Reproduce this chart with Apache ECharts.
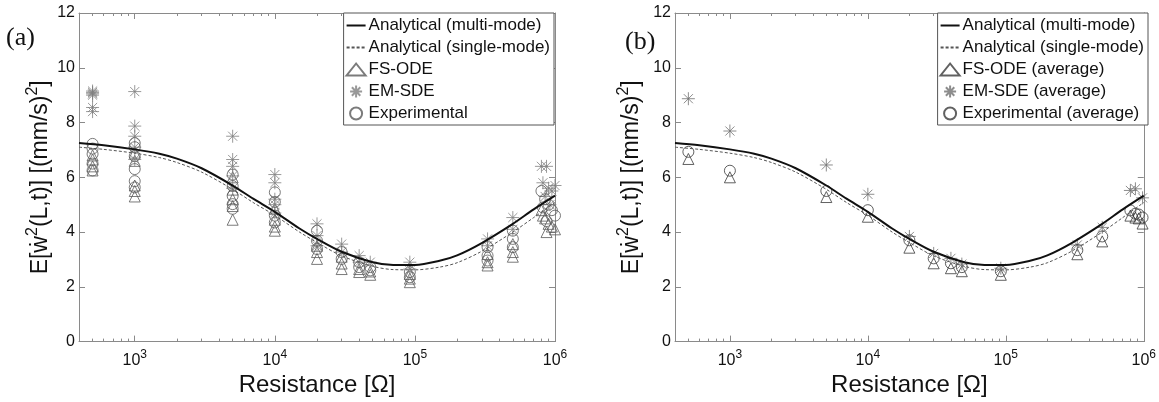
<!DOCTYPE html>
<html><head><meta charset="utf-8">
<script src="https://cdn.jsdelivr.net/npm/echarts@6/dist/echarts.min.js"></script>
<style>html,body{margin:0;padding:0;background:#fff}#c{width:1159px;height:402px}</style>
</head><body><div id="c"></div>
<script>
// ---------- data ----------
const curveR      = [400, 600, 1000, 1500, 2000, 3000, 5000, 7000, 10000, 15000, 20000, 30000, 50000, 70000, 100000, 150000, 200000, 300000, 500000, 700000, 1000000];
const multiMode   = [7.25, 7.17, 7.02, 6.86, 6.68, 6.33, 5.7, 5.22, 4.74, 4.13, 3.75, 3.28, 2.9, 2.8, 2.8, 2.95, 3.15, 3.6, 4.3, 4.82, 5.33];
const singleMode  = [7.1, 7.02, 6.88, 6.72, 6.54, 6.19, 5.56, 5.08, 4.61, 4.0, 3.62, 3.13, 2.75, 2.63, 2.62, 2.72, 2.88, 3.3, 4.0, 4.52, 5.08];

const xMajorTicks = [1e3, 1e4, 1e5, 1e6];
const xMinorTicks = [500, 600, 700, 800, 900, 2000, 3000, 4000, 5000, 6000, 7000, 8000, 9000,
  20000, 30000, 40000, 50000, 60000, 70000, 80000, 90000,
  200000, 300000, 400000, 500000, 600000, 700000, 800000, 900000];

// panel (a): all runs
const aFsOde = [[500,6.8],[500,6.65],[500,6.4],[500,6.25],
  [1000,6.9],[1000,6.6],[1000,5.7],[1000,5.5],[1000,5.3],
  [5000,6.0],[5000,5.55],[5000,5.2],[5000,4.95],[5000,4.45],
  [10000,4.85],[10000,4.45],[10000,4.2],[10000,4.05],
  [20000,3.5],[20000,3.27],[20000,3.02],
  [30000,3.1],[30000,2.85],[30000,2.65],
  [40000,2.65],[40000,2.54],[48000,2.56],[48000,2.44],
  [92000,2.47],[92000,2.3],[92000,2.17],
  [330000,3.2],[330000,2.9],[330000,2.78],
  [500000,3.56],[500000,3.27],[500000,3.1],
  [800000,4.8],[820000,4.6],[850000,4.5],[870000,4.0],[900000,4.3],[950000,4.2],[1000000,4.1]];
const aEmSde = [[500,9.15],[500,9.1],[500,9.05],[500,9.0],[500,8.55],[500,8.4],
  [1000,9.13],[1000,7.87],[1000,7.5],[1000,7.1],[1000,6.65],
  [5000,7.5],[5000,6.65],[5000,6.4],[5000,6.05],[5000,5.6],
  [10000,6.1],[10000,5.8],[10000,5.2],[10000,5.0],[10000,4.7],
  [20000,4.3],[20000,3.87],[20000,3.5],
  [30000,3.56],[30000,3.27],[40000,3.14],[40000,2.9],[48000,2.9],
  [92000,2.9],[92000,2.65],
  [330000,3.75],[330000,3.5],[500000,4.53],[500000,4.1],
  [800000,6.4],[820000,5.8],[850000,5.3],[870000,6.4],[900000,5.6],[920000,5.0],[950000,5.5],[1000000,5.7]];
const aExp = [[500,7.22],[500,7.05],[500,6.85],[500,6.5],[500,6.25],
  [1000,7.25],[1000,7.1],[1000,6.77],[1000,6.3],[1000,5.86],[1000,5.63],
  [5000,6.1],[5000,5.68],[5000,5.32],[5000,5.02],[5000,4.85],
  [10000,5.45],[10000,5.1],[10000,4.6],[10000,4.35],
  [20000,4.05],[20000,3.68],[20000,3.38],
  [30000,3.27],[30000,3.02],[40000,2.9],[40000,2.72],[48000,2.72],[48000,2.6],
  [92000,2.54],[92000,2.35],
  [330000,3.45],[330000,3.14],[330000,2.96],
  [500000,4.05],[500000,3.75],[500000,3.45],
  [800000,5.5],[820000,4.9],[850000,5.2],[870000,4.4],[900000,5.0],[950000,4.8],[1000000,4.6]];

// panel (b): averages
const bFsOde = [[500,6.67],[1000,6.0],[5000,5.28],[10000,4.56],[20000,3.43],[30000,2.86],[40000,2.68],[48000,2.57],[92000,2.44],[330000,3.19],[500000,3.66],[800000,4.6],[870000,4.53],[920000,4.5],[980000,4.31]];
const bEmSde = [[500,8.87],[1000,7.69],[5000,6.45],[10000,5.38],[20000,3.84],[30000,3.22],[40000,3.04],[48000,2.83],[92000,2.68],[330000,3.53],[500000,4.17],[800000,5.52],[870000,5.58],[980000,5.25]];
const bExp   = [[500,6.93],[1000,6.24],[5000,5.5],[10000,4.8],[20000,3.7],[30000,3.04],[40000,2.86],[48000,2.72],[92000,2.57],[330000,3.34],[500000,3.84],[800000,4.79],[870000,4.67],[920000,4.64],[980000,4.53]];

const legendA = ['Analytical (multi-mode)', 'Analytical (single-mode)', 'FS-ODE', 'EM-SDE', 'Experimental'];
const legendB = ['Analytical (multi-mode)', 'Analytical (single-mode)', 'FS-ODE (average)', 'EM-SDE (average)', 'Experimental (average)'];

// ---------- styling ----------
const FONT = 'Liberation Sans, Arial, Helvetica, sans-serif';
const AXC = '#8a8a8a';
const STAR = 'path://M10,0L10,20M0,10L20,10M3,3L17,17M3,17L17,3';

function xAxesFor(g) {
  const base = {type:'log', logBase:10, gridIndex:g, min:400, max:1e6,
    splitLine:{show:false}, axisLine:{show:false, onZero:false}, axisLabel:{show:false}};
  const tk = (len, vals) => ({show:true, inside:true, length:len, customValues:vals, lineStyle:{color:AXC, width:1}});
  return [
    Object.assign({}, base, {position:'bottom',
      axisLine:{show:true, onZero:false, lineStyle:{color:AXC, width:1}},
      axisTick: tk(6, xMajorTicks),
      axisLabel:{show:true, customValues:xMajorTicks, margin:7, color:'#111', fontFamily:FONT, fontSize:16,
        formatter: v => '10{s|' + Math.round(Math.log10(v)) + '}',
        rich:{s:{fontSize:12, fontFamily:FONT, color:'#111', padding:[0,0,11,0]}}},
      name:'Resistance [Ω]', nameLocation:'middle', nameGap:30,
      nameTextStyle:{fontSize:24, fontFamily:FONT, color:'#111'}}),
    Object.assign({}, base, {position:'bottom', axisTick: tk(3, xMinorTicks)}),
    Object.assign({}, base, {position:'top',
      axisLine:{show:true, onZero:false, lineStyle:{color:AXC, width:1}}, axisTick: tk(6, xMajorTicks)}),
    Object.assign({}, base, {position:'top', axisTick: tk(3, xMinorTicks)})
  ];
}
function yAxesFor(g, gap) {
  const common = {type:'value', gridIndex:g, min:0, max:12, interval:2, splitLine:{show:false},
    axisLine:{show:true, onZero:false, lineStyle:{color:AXC, width:1}},
    axisTick:{show:true, inside:true, length:6, lineStyle:{color:AXC}}};
  return [
    Object.assign({}, common, {position:'left',
      axisLabel:{margin:4, color:'#111', fontFamily:FONT, fontSize:16},
      name:'E[ẇ{s|2}(L,t)] [(mm/s){s|2}]', nameLocation:'middle', nameRotate:90, nameGap:gap,
      nameTextStyle:{fontSize:23, fontFamily:FONT, color:'#111',
        rich:{s:{fontSize:16, fontFamily:FONT, color:'#111', padding:[0,0,16,0]}}}}),
    Object.assign({}, common, {position:'right', axisLabel:{show:false}})
  ];
}
function seriesFor(g, names, fs, em, ex, markColor, starColor) {
  const xi = g * 4, yi = g * 2;
  const ln = (name, vals, style) => ({name, type:'line', xAxisIndex:xi, yAxisIndex:yi,
    data: curveR.map((r, i) => [r, vals[i]]), smooth:0.3, symbol:'circle', showSymbol:false, symbolSize:0,
    lineStyle:style, z:3, itemStyle:{color:'rgba(0,0,0,0)'}, emphasis:{disabled:true}});
  const sc = (name, data, symbol, size, color) => ({name, type:'scatter', xAxisIndex:xi, yAxisIndex:yi,
    data, symbol, symbolSize:size, z:2,
    itemStyle:{color:'rgba(0,0,0,0)', borderColor:color, borderWidth:1}});
  return [
    ln(names[0], multiMode, {color:'#111', width:2, type:'solid'}),
    ln(names[1], singleMode, {color:'#555', width:1, type:[3,2]}),
    sc(names[2], fs, 'triangle', 11, markColor),
    sc(names[3], em, STAR, 13, starColor),
    sc(names[4], ex, 'circle', 11, markColor)
  ];
}
function legendFor(names, right) {
  return {data:names, orient:'vertical', top:13, right, itemWidth:19, itemHeight:12, itemGap:5,
    padding:[4,4,3,2], backgroundColor:'#fff', borderColor:'#555', borderWidth:1, borderRadius:0,
    textStyle:{fontFamily:FONT, fontSize:17, color:'#111', padding:[0,0,0,-2]}, selectedMode:false, z:10};
}

const option = {
  animation:false,
  backgroundColor:'#fff',
  grid:[{left:79, right:604, top:13, bottom:59}, {left:675, right:11, top:13, bottom:58}],
  xAxis:[...xAxesFor(0), ...xAxesFor(1)],
  yAxis:[...yAxesFor(0, 22), ...yAxesFor(1, 27)],
  legend:[legendFor(legendA, 605), legendFor(legendB, 11)],
  series:[...seriesFor(0, legendA, aFsOde, aEmSde, aExp, '#5a5a5a', '#808080'),
          ...seriesFor(1, legendB, bFsOde, bEmSde, bExp, '#3a3a3a', '#707070')],
  graphic:[
    {type:'text', left:6, top:25, style:{text:'(a)', font:'26px "Liberation Serif", "Times New Roman", serif', fill:'#111'}},
    {type:'text', left:625, top:29, style:{text:'(b)', font:'26px "Liberation Serif", "Times New Roman", serif', fill:'#111'}}
  ]
};
const chart = echarts.init(document.getElementById('c'), null, {renderer:'canvas'});
chart.setOption(option);
</script></body></html>
